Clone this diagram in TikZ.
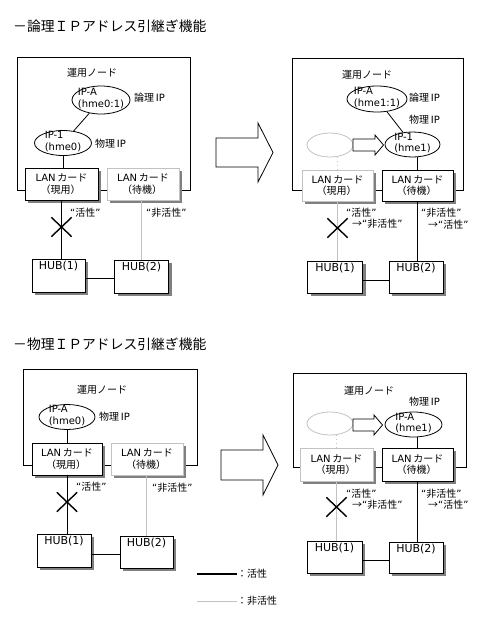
\documentclass[tikz,border=0pt]{standalone}
\usepackage{fontspec}
\setmainfont{DejaVu Sans}
\newfontfamily\jp{Noto Sans CJK JP}
\newcommand\J[1]{{\jp #1}}
\usetikzlibrary{shapes.geometric,shapes.misc,shadows}
\definecolor{inact}{gray}{0.76}
\definecolor{shd}{gray}{0.5}
\begin{document}
\begin{tikzpicture}[x=1pt,y=-1pt,
  every node/.style={font=\fontsize{10}{11.5}\selectfont},
  lw/.style={line width=0.8pt},
  title/.style={anchor=west,inner sep=0pt,font=\fontsize{13.8}{15}\selectfont\jp},
  nodebox/.style={draw,lw,rectangle,inner sep=0pt},
  card/.style={draw,lw,fill=white,rectangle,inner sep=1pt,align=left,
    drop shadow={shadow xshift=3pt,shadow yshift=-3pt,fill=shd,opacity=1}},
  actcard/.style={card,draw=black},
  inactcard/.style={card,draw=inact},
  hubbox/.style={card,draw=black},
  hubtxt/.style={anchor=north,inner sep=0pt,yshift=-2.5pt,font=\fontsize{11}{12}\selectfont},
  ipell/.style={draw,lw,ellipse,inner sep=0pt,fill=white},
  elltxt/.style={align=left,inner sep=0pt,yshift=1.5pt},
  ghostell/.style={draw=inact,lw,ellipse,inner sep=0pt},
  crossmark/.style={cross out,draw,line width=1.4pt,minimum width=19pt,minimum height=18pt,inner sep=0pt},
  lbl/.style={anchor=west,inner sep=0pt},
  stat/.style={anchor=west,inner sep=0pt,align=left},
  bigarrow/.style={draw,lw,fill=white},
  inline/.style={lw,draw=inact},
  ghostlink/.style={draw=inact,line width=1pt,dash pattern=on 1pt off 3pt}
]
\useasboundingbox (0,0) rectangle (483,619);

% ================= Section A : logical IP, before =================
\node[title] (titleA) at (13,26) {－論理ＩＰアドレス引継ぎ機能};
\node[nodebox,minimum width=173pt,minimum height=133pt] (boxA) at (103.5,123.5) {};
\node (opA) at (92,73) {\J{運用ノード}};
\node[ipell,minimum width=58pt,minimum height=28pt,label={[elltxt]center:{IP-A\\(hme0:1)}}] (ipAA) at (101,100) {};
\node[lbl] (lgA) at (134,98) {\J{論理}\,IP};
\node[ipell,minimum width=57pt,minimum height=25pt,label={[elltxt]center:{IP-1\\(hme0)}}] (ipA1) at (63,143) {};
\node[lbl] (phA) at (95,144) {\J{物理}\,IP};
\node[actcard,minimum width=73pt,minimum height=32pt] (lanA1) at (61.5,184) {LAN\,\J{カード}\\\hspace*{5pt}\J{（現用）}};
\node[inactcard,minimum width=72pt,minimum height=32pt] (lanA2) at (143,184) {LAN\,\J{カード}\\\hspace*{5pt}\J{（待機）}};
\node[hubbox,minimum width=53pt,minimum height=33pt,label={[hubtxt]north:HUB(1)}] (hubA1) at (58.5,275.5) {};
\node[hubbox,minimum width=54pt,minimum height=33pt,label={[hubtxt]north:HUB(2)}] (hubA2) at (141.5,276.5) {};
\draw[lw] (ipAA) -- (ipA1);
\draw[lw] (ipA1.south) -- (ipA1.south |- lanA1.north);
\draw[lw] (lanA1.south) -- (lanA1.south |- hubA1.north);
\draw[inline] (hubA2.north |- lanA2.south) -- (hubA2.north);
\draw[lw] ([yshift=-3pt]hubA1.east) -- ([yshift=-3pt]hubA1.east -| hubA2.west);
\node[crossmark] (xA) at (61.5,227) {};
\node[stat] (stA1) at (70,213) {“\J{活性}”};
\node[stat] (stA2) at (146,213) {“\J{非活性}”};

\draw[bigarrow] (216,138) -- (258,138) -- (258,123) -- (273,152.5) -- (258,182) -- (258,167) -- (216,167) -- cycle;

% ================= Section B : logical IP, after =================
\node[nodebox,minimum width=171pt,minimum height=132pt] (boxB) at (377.5,124) {};
\node (opB) at (367,75) {\J{運用ノード}};
\node[ipell,minimum width=60pt,minimum height=26pt,label={[elltxt]center:{IP-A\\(hme1:1)}}] (ipBA) at (377,99) {};
\node[lbl] (lgB) at (409,98) {\J{論理}\,IP};
\node[lbl] (phB) at (409,120) {\J{物理}\,IP};
\node[ipell,minimum width=55pt,minimum height=25pt,label={[elltxt]center:{IP-1\\(hme1)}}] (ipB1) at (412.5,144.5) {};
\node[ghostell,minimum width=46pt,minimum height=24pt] (ghB) at (330,145) {};
\draw[lw,fill=white] (353,139) -- (375,139) -- (375,135) -- (383.5,145) -- (375,155) -- (375,151) -- (353,151) -- cycle;
\node[inactcard,minimum width=71pt,minimum height=31pt] (lanB1) at (337.5,185.5) {LAN\,\J{カード}\\\hspace*{5pt}\J{（現用）}};
\node[actcard,minimum width=71pt,minimum height=31pt] (lanB2) at (417.5,185.5) {LAN\,\J{カード}\\\hspace*{5pt}\J{（待機）}};
\node[hubbox,minimum width=55pt,minimum height=32pt,label={[hubtxt]north:HUB(1)}] (hubB1) at (335,277) {};
\node[hubbox,minimum width=54pt,minimum height=32pt,label={[hubtxt]north:HUB(2)}] (hubB2) at (416,277) {};
\draw[lw] (ipBA) -- (ipB1);
\draw[lw] (lanB2.north) -- (lanB2.north |- ipB1.south);
\draw[ghostlink] (lanB1.north) -- (lanB1.north |- ghB.south);
\draw[inline] (lanB1.south) -- (lanB1.south |- hubB1.north);
\draw[lw] (lanB2.south) -- (lanB2.south |- hubB2.north);
\draw[lw] ([yshift=-3pt]hubB1.east) -- ([yshift=-3pt]hubB1.east -| hubB2.west);
\node[crossmark] (xB) at (337.5,228) {};
\node[stat] (stB1) at (346,218.5) {“\J{活性}”\\\hspace*{6pt}\J{→}“\J{非活性}”};
\node[stat] (stB2) at (421,218.5) {“\J{非活性}”\\\hspace*{7pt}\J{→}“\J{活性}”};

% ================= Section C : physical IP, before =================
\node[title] (titleC) at (13,344) {－物理ＩＰアドレス引継ぎ機能};
\node[nodebox,minimum width=174pt,minimum height=96pt] (boxC) at (110,417) {};
\node (opC) at (102,390) {\J{運用ノード}};
\node[ipell,minimum width=56pt,minimum height=25pt,label={[elltxt]center:{IP-A\\(hme0)}}] (ipC) at (67,417) {};
\node[lbl] (phC) at (99,417) {\J{物理}\,IP};
\node[actcard,minimum width=70pt,minimum height=32pt] (lanC1) at (67,459) {LAN\,\J{カード}\\\hspace*{5pt}\J{（現用）}};
\node[inactcard,minimum width=72pt,minimum height=32pt] (lanC2) at (147,459) {LAN\,\J{カード}\\\hspace*{5pt}\J{（待機）}};
\node[hubbox,minimum width=54pt,minimum height=33pt,label={[hubtxt]north:HUB(1)}] (hubC1) at (64,550.5) {};
\node[hubbox,minimum width=53pt,minimum height=32pt,label={[hubtxt]north:HUB(2)}] (hubC2) at (146.5,552) {};
\draw[lw] (ipC.south) -- (ipC.south |- lanC1.north);
\draw[lw] (lanC1.south) -- (lanC1.south |- hubC1.north);
\draw[inline] (hubC2.north |- lanC2.south) -- (hubC2.north);
\draw[lw] ([yshift=-3.5pt]hubC1.east) -- ([yshift=-3.5pt]hubC1.east -| hubC2.west);
\node[crossmark] (xC) at (67,502) {};
\node[stat] (stC1) at (76,487) {“\J{活性}”};
\node[stat] (stC2) at (152,488) {“\J{非活性}”};

\draw[bigarrow] (221,450) -- (263,450) -- (263,435) -- (278,465) -- (263,495) -- (263,480) -- (221,480) -- cycle;

% ================= Section D : physical IP, after =================
\node[nodebox,minimum width=173pt,minimum height=94pt] (boxD) at (379.5,420) {};
\node (opD) at (369,391) {\J{運用ノード}};
\node[lbl] (phD) at (409,402) {\J{物理}\,IP};
\node[ghostell,minimum width=46pt,minimum height=23pt] (ghD) at (330,423.5) {};
\draw[lw,fill=white] (353,419) -- (374,419) -- (374,415) -- (382.5,425) -- (374,435) -- (374,431) -- (353,431) -- cycle;
\node[ipell,minimum width=57pt,minimum height=25pt,label={[elltxt]center:{IP-A\\(hme1)}}] (ipD) at (413.5,424.5) {};
\node[inactcard,minimum width=73pt,minimum height=33pt] (lanD1) at (336.5,464.5) {LAN\,\J{カード}\\\hspace*{5pt}\J{（現用）}};
\node[actcard,minimum width=71pt,minimum height=33pt] (lanD2) at (417.5,464.5) {LAN\,\J{カード}\\\hspace*{5pt}\J{（待機）}};
\node[hubbox,minimum width=55pt,minimum height=32pt,label={[hubtxt]north:HUB(1)}] (hubD1) at (334.5,557) {};
\node[hubbox,minimum width=54pt,minimum height=31pt,label={[hubtxt]north:HUB(2)}] (hubD2) at (416,557.5) {};
\draw[lw] (lanD2.north) -- (lanD2.north |- ipD.south);
\draw[ghostlink] (lanD1.north) -- (lanD1.north |- ghD.south);
\draw[inline] (lanD1.south) -- (lanD1.south |- hubD1.north);
\draw[lw] (lanD2.south) -- (lanD2.south |- hubD2.north);
\draw[lw] ([yshift=-3pt]hubD1.east) -- ([yshift=-3pt]hubD1.east -| hubD2.west);
\node[crossmark] (xD) at (336.5,507) {};
\node[stat] (stD1) at (346,499) {“\J{活性}”\\\hspace*{6pt}\J{→}“\J{非活性}”};
\node[stat] (stD2) at (421,499) {“\J{非活性}”\\\hspace*{7pt}\J{→}“\J{活性}”};

% ================= Legend =================
\coordinate (legA0) at (197,574);
\coordinate (legA1) at (237,574);
\coordinate (legI0) at (197,601);
\coordinate (legI1) at (237,601);
\draw[line width=2pt] (legA0) -- (legA1);
\draw[inline] (legI0) -- (legI1);
\node[lbl] (legAt) at (legA1) {\J{：活性}};
\node[lbl] (legIt) at (legI1) {\J{：非活性}};
\end{tikzpicture}
\end{document}
